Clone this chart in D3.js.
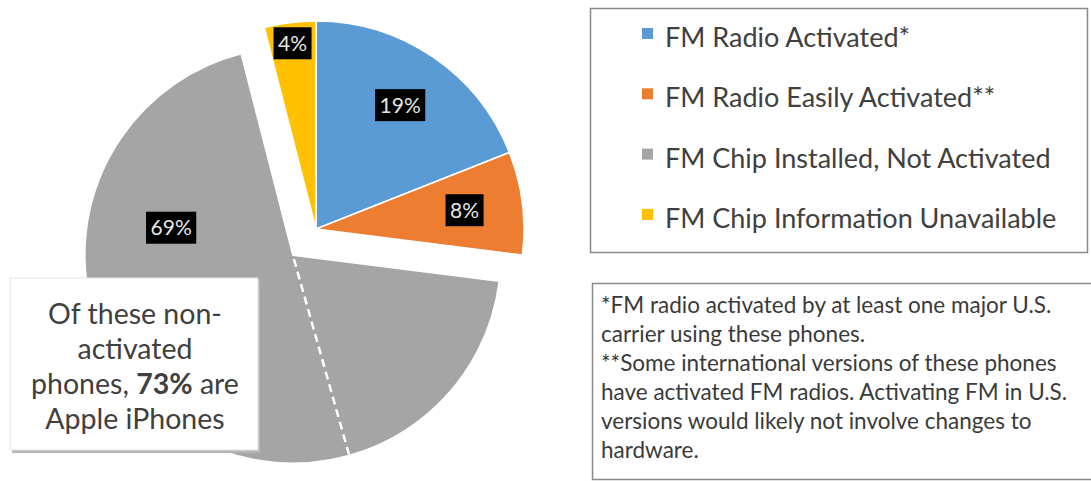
<!DOCTYPE html>
<html>
<head>
<meta charset="utf-8">
<script src="https://cdn.jsdelivr.net/npm/d3@7"></script>
<style>
  body { margin: 0; background: #fff; }
  svg text { font-family: Lato, 'Open Sans', sans-serif; }
</style>
</head>
<body>
<script>
(function () {

  // Slices, clockwise from 12 o'clock
  let categories = [
    'FM Radio Activated*',
    'FM Radio Easily Activated**',
    'FM Chip Installed, Not Activated',
    'FM Chip Information Unavailable'
  ];
  let shares = [19, 8, 69, 4];
  let colors = ['#5b9bd5', '#ed7d31', '#a5a5a5', '#ffc000'];

  // Part of the grey slice that are Apple iPhones
  let appleShare = 73;

  let calloutLines = [
    [{ t: 'Of these non-' }],
    [{ t: 'activated' }],
    [{ t: 'phones, ' }, { t: '73%', bold: true }, { t: ' are' }],
    [{ t: 'Apple iPhones' }]
  ];

  let footnoteLines = [
    '*FM radio activated by at least one major U.S.',
    'carrier using these phones.',
    '**Some international versions of these phones',
    'have activated FM radios. Activating FM in U.S.',
    'versions would likely not involve changes to',
    'hardware.'
  ];

  function go() {
    let width = 1091, height = 481;

    // pie geometry
    let cx = 316, cy = 229, radius = 208;
    let explodeIndex = 2, explodeBy = 35;

    // label placement: radius as a fraction of the pie radius, optional position within the slice
    let labelPos = [
      { r: 0.72 },
      { r: 0.72 },
      { r: 0.6, at: 0.747 },
      { r: 0.9 }
    ];

    let svg = d3.select('body').append('svg')
        .attr('width', width)
        .attr('height', height)
        .attr('viewBox', '0 0 ' + width + ' ' + height);

    let pie = d3.pie().sort(null).value(d => d);
    let arcs = pie(shares);
    let arc = d3.arc().innerRadius(0).outerRadius(radius);

    function shift(a, i) {
      if (i !== explodeIndex) return [0, 0];
      let m = (a.startAngle + a.endAngle) / 2;
      return [explodeBy * Math.sin(m), -explodeBy * Math.cos(m)];
    }

    let pieG = svg.append('g').attr('transform', 'translate(' + cx + ',' + cy + ')');

    let slices = pieG.selectAll('g.slice').data(arcs)
      .enter().append('g')
        .attr('class', 'slice')
        .attr('transform', (d, i) => 'translate(' + shift(d, i) + ')');

    slices.append('path')
      .attr('d', arc)
      .attr('fill', (d, i) => colors[i])
      .attr('stroke', '#fff')
      .attr('stroke-width', 1.5)
      .attr('stroke-linejoin', 'round');

    // dashed split inside the grey slice
    let grey = arcs[explodeIndex];
    let splitAngle = grey.startAngle + (1 - appleShare / 100) * (grey.endAngle - grey.startAngle);
    let g0 = shift(grey, explodeIndex);
    pieG.append('line')
      .attr('x1', g0[0] + 4 * Math.sin(splitAngle))
      .attr('y1', g0[1] - 4 * Math.cos(splitAngle))
      .attr('x2', g0[0] + (radius - 1) * Math.sin(splitAngle))
      .attr('y2', g0[1] - (radius - 1) * Math.cos(splitAngle))
      .attr('stroke', '#fff')
      .attr('stroke-width', 2.5)
      .attr('stroke-dasharray', '8,5');

    // percentage labels
    arcs.forEach(function (d, i) {
      let p = labelPos[i];
      let ang = p.at === undefined ? (d.startAngle + d.endAngle) / 2
                                   : d.startAngle + p.at * (d.endAngle - d.startAngle);
      let s = shift(d, i);
      let x = s[0] + p.r * radius * Math.sin(ang);
      let y = s[1] - p.r * radius * Math.cos(ang);
      let lg = pieG.append('g').attr('transform', 'translate(' + x + ',' + y + ')');
      let bg = lg.append('rect').attr('fill', '#000');
      let t = lg.append('text')
        .attr('text-anchor', 'middle')
        .attr('y', 7.5)
        .attr('font-size', 21)
        .attr('fill', '#e6e6e6')
        .text(d.data + '%');
      let w = t.node().getComputedTextLength() + 9;
      bg.attr('x', -w / 2).attr('y', -16).attr('width', w).attr('height', 32);
    });

    // callout box over the grey slice
    let cb = { x: 10, y: 278, w: 248, h: 172 };
    svg.append('rect')
      .attr('x', cb.x + 2).attr('y', cb.y + 3)
      .attr('width', cb.w).attr('height', cb.h)
      .attr('fill', '#b5b5b5');
    svg.append('rect')
      .attr('x', cb.x).attr('y', cb.y)
      .attr('width', cb.w).attr('height', cb.h)
      .attr('fill', '#fff')
      .attr('stroke', '#e4e4e4')
      .attr('stroke-width', 1);

    let ct = svg.append('text')
      .attr('text-anchor', 'middle')
      .attr('font-size', 28.5)
      .attr('fill', '#404040');
    calloutLines.forEach(function (line, i) {
      line.forEach(function (part, j) {
        let ts = ct.append('tspan').text(part.t);
        if (j === 0) ts.attr('x', cb.x + cb.w / 2 + 1).attr('y', 324 + i * 35);
        if (part.bold) ts.attr('font-weight', 'bold');
      });
    });

    // legend
    let lb = { x: 590.5, y: 8.5, w: 497, h: 244 };
    svg.append('rect')
      .attr('x', lb.x).attr('y', lb.y)
      .attr('width', lb.w).attr('height', lb.h)
      .attr('fill', '#fff')
      .attr('stroke', '#8a8a8a')
      .attr('stroke-width', 1.5);

    let legend = svg.append('g').selectAll('g.item').data(categories)
      .enter().append('g')
        .attr('class', 'item')
        .attr('transform', (d, i) => 'translate(0,' + (47 + i * 60.3) + ')');
    legend.append('rect')
      .attr('x', 642).attr('y', -19)
      .attr('width', 11).attr('height', 11)
      .attr('fill', (d, i) => colors[i]);
    legend.append('text')
      .attr('x', 665)
      .attr('font-size', 27)
      .attr('fill', '#404040')
      .text(d => d);

    // footnotes
    let fb = { x: 592.5, y: 283.5, w: 510, h: 196 };
    svg.append('rect')
      .attr('x', fb.x).attr('y', fb.y)
      .attr('width', fb.w).attr('height', fb.h)
      .attr('fill', '#fff')
      .attr('stroke', '#8a8a8a')
      .attr('stroke-width', 1.5);

    svg.append('g').selectAll('text').data(footnoteLines)
      .enter().append('text')
        .attr('x', 601)
        .attr('y', (d, i) => 313 + i * 29)
        .attr('font-size', 22.5)
        .attr('fill', '#3a3a3a')
        .text(d => d);
  }

  document.addEventListener('DOMContentLoaded', go);

})();
</script>
</body>
</html>
